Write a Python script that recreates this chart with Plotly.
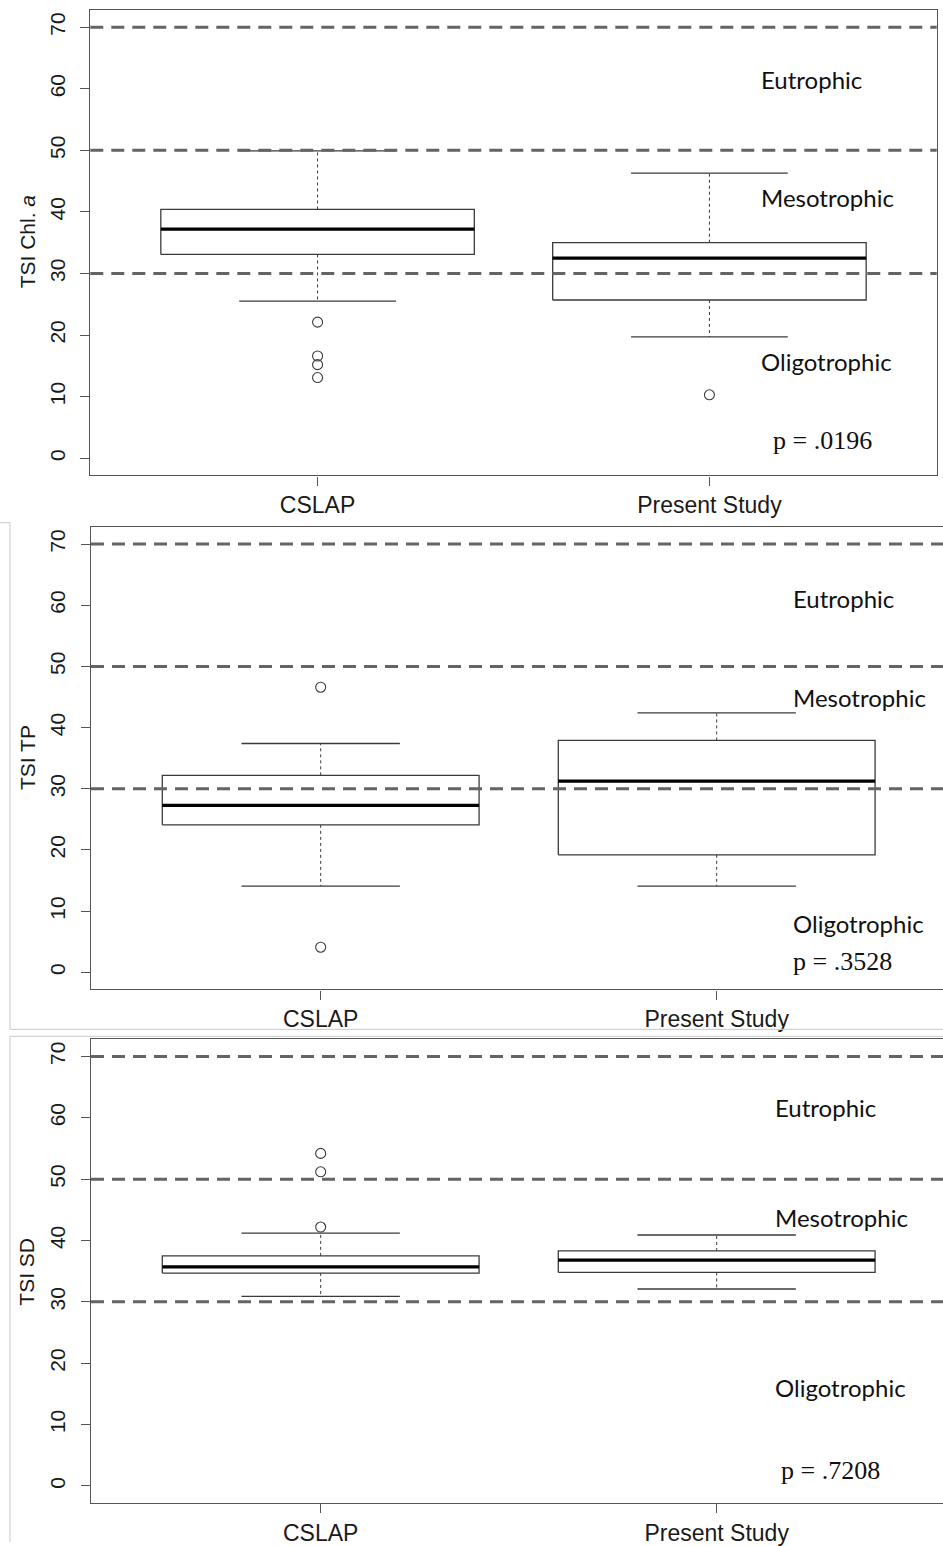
import plotly.graph_objects as go

# ---- data -------------------------------------------------------------
groups = ["CSLAP", "Present Study"]
positions = [1, 2]

# TSI Chl. a
chl_low = [25.5, 19.7]
chl_q1 = [33.1, 25.7]
chl_median = [37.2, 32.5]
chl_q3 = [40.4, 35.0]
chl_high = [49.9, 46.3]
chl_outliers_cslap = [22.1, 16.6, 15.2, 13.1]
chl_outliers_present = [10.3]

# TSI TP
tp_low = [14.1, 14.1]
tp_q1 = [24.1, 19.2]
tp_median = [27.3, 31.25]
tp_q3 = [32.2, 37.9]
tp_high = [37.4, 42.4]
tp_outliers_cslap = [46.6, 4.1]
tp_outliers_present = []

# TSI SD
sd_low = [30.9, 32.1]
sd_q1 = [34.7, 34.8]
sd_median = [35.7, 36.8]
sd_q3 = [37.5, 38.3]
sd_high = [41.2, 40.9]
sd_outliers_cslap = [54.2, 51.2, 42.2]
sd_outliers_present = []

trophic_bounds = [30, 50, 70]
trophic_labels = ["Eutrophic", "Mesotrophic", "Oligotrophic"]
p_labels = ["p = .0196", "p = .3528", "p = .7208"]
y_titles = ["TSI Chl. <i>a</i>", "TSI TP", "TSI SD"]
y_ticks = [0, 10, 20, 30, 40, 50, 60, 70]

# ---- page geometry (pixels) ---------------------------------------------
W, H = 943, 1546


def fx(px):
    return px / W


def fy(py):
    return 1 - py / H


BOX_HALF = 0.4
CAP_HALF = 0.2
AXIS_COL = "#555555"
BOX_COL = "#3a3a3a"
REF_COL = "#646464"

panels = [
    dict(stats=(chl_low, chl_q1, chl_median, chl_q3, chl_high),
         outliers=(chl_outliers_cslap, chl_outliers_present),
         xdom=(90.3, 936.7), xr=(0.42, 2.58), ydom=(10, 476.7),
         mirror_y=True, title_y=243, text_x=759,
         text_y=(80, 198, 362), p_xy=(771, 442)),
    dict(stats=(tp_low, tp_q1, tp_median, tp_q3, tp_high),
         outliers=(tp_outliers_cslap, tp_outliers_present),
         xdom=(91, 943), xr=(0.42, 0.42 + 852 / 396), ydom=(528.3, 992),
         mirror_y=False, title_y=760, text_x=791,
         text_y=(600, 699, 926), p_xy=(791, 964)),
    dict(stats=(sd_low, sd_q1, sd_median, sd_q3, sd_high),
         outliers=(sd_outliers_cslap, sd_outliers_present),
         xdom=(91, 943), xr=(0.42, 0.42 + 852 / 396), ydom=(1042, 1507),
         mirror_y=False, title_y=1275, text_x=773,
         text_y=(1110, 1221, 1391), p_xy=(779, 1474)),
]

fig = go.Figure()
shapes = []
annotations = []

for i, pn in enumerate(panels):
    n = "" if i == 0 else str(i + 1)
    xa, ya = "x" + n, "y" + n
    low, q1, med, q3, high = pn["stats"]

    for k, c in enumerate(positions):
        # box outline
        fig.add_trace(go.Scatter(
            x=[c - BOX_HALF, c + BOX_HALF, c + BOX_HALF, c - BOX_HALF, c - BOX_HALF],
            y=[q1[k], q1[k], q3[k], q3[k], q1[k]],
            mode="lines", line=dict(color=BOX_COL, width=1.3),
            xaxis=xa, yaxis=ya, showlegend=False, hoverinfo="skip"))
        # dashed whiskers
        for a, b in ((q3[k], high[k]), (q1[k], low[k])):
            fig.add_trace(go.Scatter(
                x=[c, c], y=[a, b], mode="lines",
                line=dict(color=BOX_COL, width=1, dash="3px,3px"),
                xaxis=xa, yaxis=ya, showlegend=False, hoverinfo="skip"))
        # whisker caps
        for v in (high[k], low[k]):
            fig.add_trace(go.Scatter(
                x=[c - CAP_HALF, c + CAP_HALF], y=[v, v], mode="lines",
                line=dict(color=BOX_COL, width=1.3),
                xaxis=xa, yaxis=ya, showlegend=False, hoverinfo="skip"))
        # median
        fig.add_trace(go.Scatter(
            x=[c - BOX_HALF, c + BOX_HALF], y=[med[k], med[k]], mode="lines",
            line=dict(color="#000000", width=3.2),
            xaxis=xa, yaxis=ya, showlegend=False, hoverinfo="skip"))
        # outliers
        outs = pn["outliers"][k]
        if outs:
            fig.add_trace(go.Scatter(
                x=[c] * len(outs), y=outs, mode="markers",
                marker=dict(symbol="circle-open", size=10,
                            line=dict(color=BOX_COL, width=1.1), color=BOX_COL),
                xaxis=xa, yaxis=ya, showlegend=False, hoverinfo="skip"))

    # trophic state boundaries
    for b in trophic_bounds:
        shapes.append(dict(type="line", xref=xa + " domain", yref=ya,
                           x0=0, x1=1, y0=b, y1=b, layer="above",
                           line=dict(color=REF_COL, width=3, dash="13px,8px")))

    x0, x1 = pn["xdom"]
    y0, y1 = pn["ydom"]
    xkey = "xaxis" + n
    ykey = "yaxis" + n
    fig.update_layout(**{
        xkey: dict(domain=[fx(x0), fx(x1)], range=list(pn["xr"]),
                   anchor=ya, tickvals=positions, ticktext=groups,
                   ticks="outside", ticklen=9, tickwidth=1.2,
                   tickcolor=AXIS_COL, showline=True, linecolor=AXIS_COL,
                   linewidth=1.3, mirror=True, showgrid=False,
                   zeroline=False, ticklabelstandoff=0,
                   tickfont=dict(family="Liberation Sans", size=23,
                                 color="#1a1a1a")),
        ykey: dict(domain=[fy(y1), fy(y0)], range=[-2.8, 72.8],
                   anchor=xa, tickvals=y_ticks, ticks="outside",
                   ticklen=9, tickwidth=1.2, tickcolor=AXIS_COL,
                   showline=True, linecolor=AXIS_COL, linewidth=1.3,
                   mirror=pn["mirror_y"], showgrid=False, zeroline=False,
                   tickangle=-90, ticklabelstandoff=7,
                   tickfont=dict(family="Liberation Sans", size=21,
                                 color="#1a1a1a")),
    })

    # axis title
    annotations.append(dict(
        text=y_titles[i], xref="paper", yref="paper",
        x=fx(27), y=fy(pn["title_y"]), textangle=-90,
        xanchor="center", yanchor="middle", showarrow=False,
        font=dict(family="Liberation Sans", size=21, color="#1a1a1a")))

    # trophic zone labels
    for lbl, ty in zip(trophic_labels, pn["text_y"]):
        annotations.append(dict(
            text=lbl, xref="paper", yref="paper",
            x=fx(pn["text_x"]), y=fy(ty), xanchor="left", yanchor="middle",
            showarrow=False,
            font=dict(family="Lato", size=24, color="#111111")))

    px_, py_ = pn["p_xy"]
    annotations.append(dict(
        text=p_labels[i], xref="paper", yref="paper",
        x=fx(px_), y=fy(py_), xanchor="left", yanchor="middle",
        showarrow=False,
        font=dict(family="Liberation Serif", size=26, color="#111111")))

# light frames around the lower two panels
FRAME_COL = "#c8c8c8"
for (ax0, ay0, ax1, ay1) in [
    (0, 524, 10, 524), (10, 524, 10, 1032), (10, 1032, W, 1032),
    (10, 1039, W, 1039), (10, 1039, 10, H),
]:
    shapes.append(dict(type="line", xref="paper", yref="paper",
                       x0=fx(ax0), x1=fx(ax1), y0=fy(ay0), y1=fy(ay1),
                       line=dict(color=FRAME_COL, width=1)))

fig.update_layout(
    width=W, height=H, margin=dict(l=0, r=0, t=0, b=0),
    paper_bgcolor="white", plot_bgcolor="white",
    shapes=shapes, annotations=annotations, showlegend=False,
)

fig.write_html("out.html")
